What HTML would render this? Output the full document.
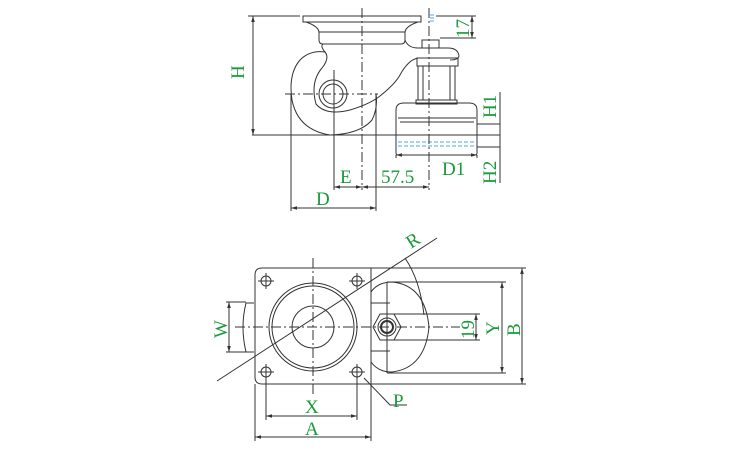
<!DOCTYPE html>
<html><head><meta charset="utf-8"><style>
html,body{margin:0;padding:0;background:#fff;width:750px;height:450px;overflow:hidden}
svg{display:block}
text{font-family:"Liberation Serif",serif;fill:#1a9a3a;font-size:19px}
</style></head><body>
<svg width="750" height="450" viewBox="0 0 750 450" xmlns="http://www.w3.org/2000/svg">
<defs>
<marker id="a" viewBox="0 0 10 10" refX="10" refY="5" markerWidth="6" markerHeight="6" orient="auto-start-reverse"><path d="M0,2 L10,5 L0,8 z" fill="#333"/></marker>
</defs>
<g fill="none" stroke="#333" stroke-width="1">
<path d="M303,16 H421 V22 H303 Z"/>
<path d="M306,22 Q318,26 319,32 V40 Q319,44 323,44 H401 Q405,44 405,40 V32 Q406,26 418,22"/>
<path d="M319,32 H405"/>
<path d="M405,40 Q408,48 418,48 H448 Q458,48 459,56 Q458,60 450,60"/>
<path d="M323,44 Q320,46 325,52 Q310,50 300,60 Q288,74 292,100 Q298,130 330,135"/>
<path d="M325,52 Q330,58 322,68 Q310,82 316,104 Q326,116 350,110 Q370,104 380,96 Q395,84 400,75 Q408,60 418,58"/>
<path d="M330,135 Q360,134 372,120 Q378,108 376,94"/>
<circle cx="333" cy="94" r="14"/><circle cx="333" cy="94" r="10"/>
<rect x="422" y="40" width="17" height="8"/>
<rect x="417" y="58" width="41" height="8"/>
<rect x="418" y="66" width="37" height="34"/>
<line x1="423" y1="66" x2="423" y2="100"/><line x1="450" y1="66" x2="450" y2="100"/>
<rect x="416" y="100" width="41" height="4"/>
<path d="M396,124 V110 Q396,103 404,103 H469 Q477,103 477,110 V124"/>
<path d="M398,118 H476 M400,122 H474"/>
<path d="M396,124 V153 Q396,155 398,155 H475 Q477,155 477,153 V124"/>
<path d="M398,142 H476 M398,146 H476" stroke="#4aa8e8" stroke-dasharray="4,2"/>
<line x1="252" y1="135" x2="500" y2="135"/>
<line x1="362" y1="8" x2="362" y2="190" stroke-dasharray="10,3,2,3"/>
<line x1="429" y1="8" x2="429" y2="190" stroke-dasharray="10,3,2,3"/>
<line x1="285" y1="94" x2="378" y2="94" stroke-dasharray="10,3,2,3"/>
<line x1="334" y1="70" x2="334" y2="190"/>
<line x1="248" y1="16" x2="300" y2="16"/>
<line x1="253" y1="16" x2="253" y2="135" marker-start="url(#a)" marker-end="url(#a)"/>
<line x1="436" y1="16" x2="476" y2="16"/><line x1="440" y1="38" x2="476" y2="38"/>
<line x1="472" y1="16" x2="472" y2="38" marker-start="url(#a)" marker-end="url(#a)"/>
<path d="M430,15 H434 M430,18 H434 M430,21 H434" stroke="#4aa8e8"/>
<line x1="500" y1="92" x2="500" y2="183"/>
<line x1="477" y1="124" x2="500" y2="124"/>
<line x1="477" y1="147" x2="500" y2="147"/>
<line x1="396" y1="155" x2="396" y2="158"/><line x1="477" y1="155" x2="477" y2="158"/>
<line x1="396" y1="155" x2="477" y2="155" marker-start="url(#a)" marker-end="url(#a)"/>
<line x1="334" y1="187" x2="362" y2="187" marker-start="url(#a)" marker-end="url(#a)"/>
<line x1="362" y1="187" x2="429" y2="187" marker-start="url(#a)" marker-end="url(#a)"/>
<line x1="291" y1="94" x2="291" y2="211"/><line x1="376" y1="94" x2="376" y2="211"/>
<line x1="291" y1="208" x2="376" y2="208" marker-start="url(#a)" marker-end="url(#a)"/>

<path d="M262,268 H371 V384 H262 Q255,384 255,377 V275 Q255,268 262,268 Z"/>
<g>
<circle cx="266" cy="281" r="5"/><circle cx="357" cy="281" r="5"/><circle cx="266" cy="372" r="5"/><circle cx="357" cy="372" r="5"/>
<path d="M258,281 H274 M266,273 V289 M349,281 H365 M357,273 V289 M258,372 H274 M266,364 V380 M349,372 H365 M357,364 V380"/>
</g>
<circle cx="313" cy="327" r="44"/><circle cx="313" cy="327" r="41"/><circle cx="313" cy="327" r="21"/>
<path d="M254,303 H246 Q240,327 246,352 H254"/>
<line x1="371" y1="268" x2="526" y2="268"/><line x1="371" y1="384" x2="526" y2="384"/>
<line x1="387" y1="282" x2="387" y2="373"/>
<line x1="387" y1="282" x2="506" y2="282"/><line x1="387" y1="373" x2="506" y2="373"/>
<path d="M371,292 Q378,282 392,282 Q425,285 429,327 Q425,368 392,372 Q378,372 371,362"/>
<path d="M371,303 H390 M371,351 H390"/>
<line x1="387" y1="314" x2="480" y2="314"/><line x1="387" y1="340" x2="480" y2="340"/>
<polygon points="373,327 380,314 394,314 401,327 394,340 380,340"/>
<circle cx="387" cy="327" r="9"/><circle cx="387" cy="327" r="6" stroke-width="2"/>
<line x1="476" y1="314" x2="476" y2="340" marker-start="url(#a)" marker-end="url(#a)"/>
<line x1="502" y1="282" x2="502" y2="373" marker-start="url(#a)" marker-end="url(#a)"/>
<line x1="522" y1="268" x2="522" y2="384" marker-start="url(#a)" marker-end="url(#a)"/>
<line x1="235" y1="327" x2="460" y2="327" stroke-dasharray="10,3,2,3"/>
<line x1="313" y1="258" x2="313" y2="395" stroke-dasharray="10,3,2,3"/>
<line x1="217" y1="381" x2="437" y2="238"/>
<path d="M405,258 Q420,280 424,315"/>
<line x1="226" y1="302" x2="246" y2="302"/><line x1="226" y1="352" x2="246" y2="352"/>
<line x1="229" y1="302" x2="229" y2="352" marker-start="url(#a)" marker-end="url(#a)"/>
<path d="M364,378 L390,405 H407"/>
<line x1="266" y1="377" x2="266" y2="420"/><line x1="357" y1="377" x2="357" y2="420"/>
<line x1="266" y1="416" x2="357" y2="416" marker-start="url(#a)" marker-end="url(#a)"/>
<line x1="255" y1="384" x2="255" y2="441"/><line x1="371" y1="384" x2="371" y2="441"/>
<line x1="255" y1="437" x2="371" y2="437" marker-start="url(#a)" marker-end="url(#a)"/>
</g>
<text transform="translate(244,79) rotate(-90)">H</text>
<text transform="translate(469,38) rotate(-90)">17</text>
<text transform="translate(496,118) rotate(-90)">H1</text>
<text transform="translate(496,184) rotate(-90)">H2</text>
<text x="442" y="175">D1</text>
<text x="340" y="183">E</text>
<text x="381" y="183">57.5</text>
<text x="316" y="205">D</text>
<text transform="translate(411,249) rotate(-33)">R</text>
<text transform="translate(227,338) rotate(-90)">W</text>
<text transform="translate(474,339) rotate(-90)">19</text>
<text transform="translate(499,335) rotate(-90)">Y</text>
<text transform="translate(520,336) rotate(-90)">B</text>
<text x="393" y="407">P</text>
<text x="305" y="413">X</text>
<text x="305" y="435">A</text>
</svg>
</body></html>
